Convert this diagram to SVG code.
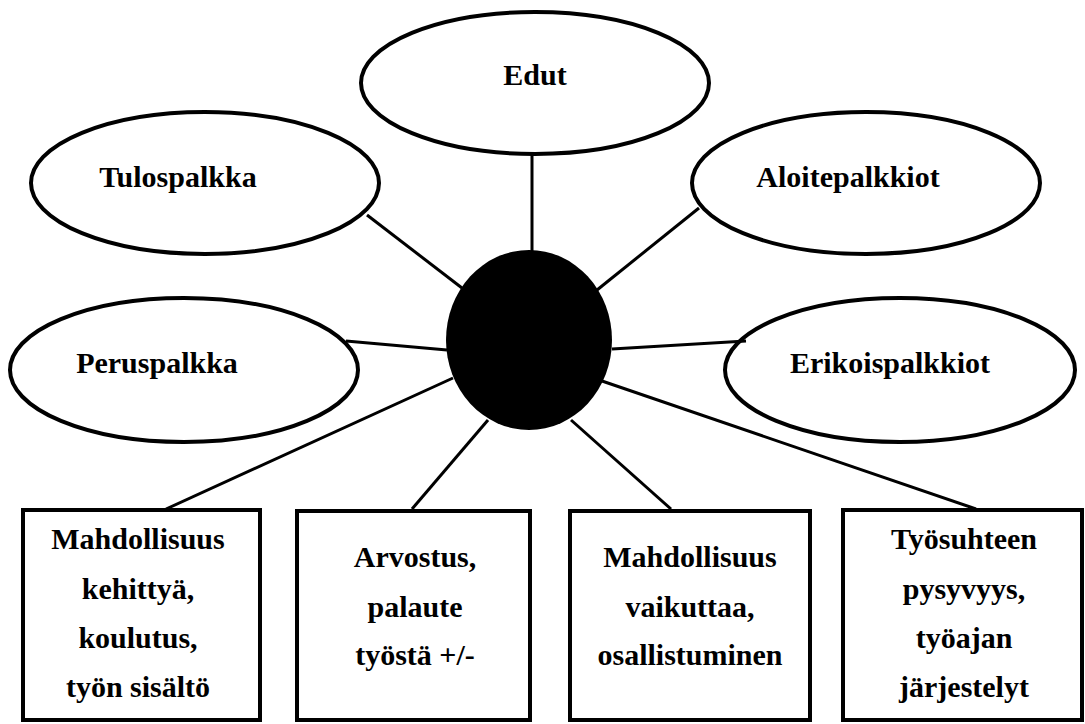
<svg xmlns="http://www.w3.org/2000/svg" width="1085" height="724" viewBox="0 0 1085 724">
<style>
.oval{fill:#fff;stroke:#000;stroke-width:4}
.box{fill:#fff;stroke:#000;stroke-width:4}
.hub{fill:#000;stroke:none}
.t{font-family:"Liberation Serif","Times New Roman",serif;font-weight:bold;font-size:30px;fill:#000;text-anchor:middle}
.c line{stroke:#000;stroke-width:3}
</style>
<rect width="1085" height="724" fill="#fff"/>
<g id="edut"><ellipse class="oval" cx="535" cy="83" rx="174" ry="71"/><text class="t" x="535" y="85">Edut</text></g>
<g id="tulospalkka"><ellipse class="oval" cx="205" cy="183" rx="174" ry="71"/><text class="t" x="178" y="187">Tulospalkka</text></g>
<g id="aloitepalkkiot"><ellipse class="oval" cx="866" cy="183" rx="174" ry="71"/><text class="t" x="848" y="187">Aloitepalkkiot</text></g>
<g id="peruspalkka"><ellipse class="oval" cx="184" cy="370" rx="174" ry="72"/><text class="t" x="157" y="373">Peruspalkka</text></g>
<g id="erikoispalkkiot"><ellipse class="oval" cx="900" cy="370" rx="175" ry="72"/><text class="t" x="890" y="373">Erikoispalkkiot</text></g>
<g id="hub"><ellipse class="hub" cx="529" cy="340" rx="83" ry="90"/></g>
<g id="box1"><rect class="box" x="23" y="510" width="237" height="210"/>
<text class="t" x="138" y="549">Mahdollisuus</text><text class="t" x="138" y="599">kehittyä,</text><text class="t" x="138" y="648">koulutus,</text><text class="t" x="138" y="697">työn sisältö</text></g>
<g id="box2"><rect class="box" x="297" y="511" width="233" height="209"/>
<text class="t" x="415" y="567">Arvostus,</text><text class="t" x="415" y="617">palaute</text><text class="t" x="415" y="665">työstä +/-</text></g>
<g id="box3"><rect class="box" x="570" y="511" width="240" height="209"/>
<text class="t" x="690" y="567">Mahdollisuus</text><text class="t" x="690" y="617">vaikuttaa,</text><text class="t" x="690" y="665">osallistuminen</text></g>
<g id="box4"><rect class="box" x="843" y="510" width="239" height="210"/>
<text class="t" x="964" y="549">Työsuhteen</text><text class="t" x="964" y="599">pysyvyys,</text><text class="t" x="964" y="648">työajan</text><text class="t" x="964" y="697">järjestelyt</text></g>
<g id="connectors" class="c">
<line x1="532" y1="155" x2="532" y2="252"/>
<line x1="367" y1="215" x2="462" y2="288"/>
<line x1="699" y1="208" x2="597" y2="290"/>
<line x1="346" y1="341" x2="447" y2="350"/>
<line x1="612" y1="349" x2="746" y2="341"/>
<line x1="453" y1="378" x2="166" y2="509"/>
<line x1="488" y1="420" x2="412" y2="509"/>
<line x1="571" y1="420" x2="671" y2="509"/>
<line x1="602" y1="381" x2="976" y2="509"/>
</g>
</svg>
